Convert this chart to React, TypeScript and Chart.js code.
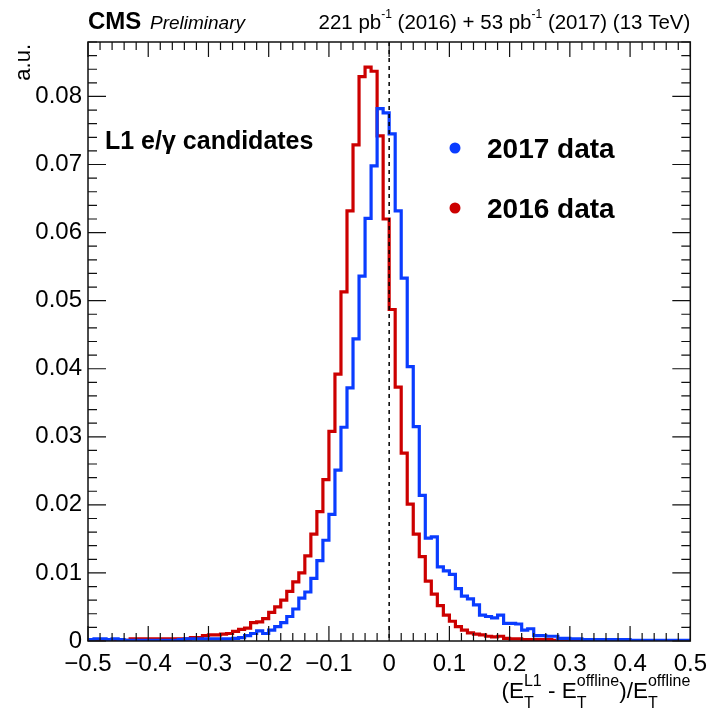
import React, { useEffect, useRef } from "react";
import { Chart, registerables } from "chart.js";

Chart.register(...registerables);

// ---- data -------------------------------------------------------------
const X_MIN = -0.5;
const X_MAX = 0.5;
const BIN_WIDTH = 0.01;
const Y_MIN = 0;
const Y_MAX = 0.088;

// 100 bins from -0.5 to 0.5 (width 0.01)
const data2017 = [
  0.0002, 0.0003, 0.0003, 0.0002, 0.0003, 0.0002, 0.0001, 0.0001, 0.0001, 0.0001,
  0.0001, 0.0001, 0.0001, 0.0001, 0.0001, 0.0002, 0.0003, 0.0003, 0.0003, 0.0003,
  0.0003, 0.0003, 0.0003, 0.0003, 0.0004, 0.0005, 0.0008, 0.0011, 0.0015, 0.0011,
  0.0016, 0.0021, 0.0027, 0.0036, 0.0047, 0.0063, 0.0072, 0.0092, 0.0118, 0.0148,
  0.0186, 0.0251, 0.0314, 0.0372, 0.0444, 0.0536, 0.0621, 0.0698, 0.0782, 0.0776,
  0.0745, 0.0632, 0.0533, 0.0403, 0.0315, 0.0214, 0.0151, 0.0153, 0.0109, 0.0103,
  0.0098, 0.0077, 0.0066, 0.0062, 0.0053, 0.0038, 0.0036, 0.0034, 0.0038, 0.0026,
  0.0026, 0.0025, 0.0016, 0.0018, 0.0008, 0.0008, 0.0007, 0.0007, 0.0004, 0.0004,
  0.0003, 0.0003, 0.0002, 0.0002, 0.0002, 0.0002, 0.0002, 0.0002, 0.0002, 0.0002,
  0.0001, 0.0001, 0.0001, 0.0001, 0.0001, 0.0001, 0.0001, 0.0001, 0.0001, 0.0001,
];

const data2016 = [
  0.0002, 0.0001, 0.0001, 0.0001, 0.0001, 0.0001, 0.0001, 0.0003, 0.0003, 0.0003,
  0.0003, 0.0003, 0.0003, 0.0003, 0.0003, 0.0003, 0.0003, 0.0005, 0.0005, 0.0008,
  0.0009, 0.0009, 0.0010, 0.0011, 0.0014, 0.0017, 0.0019, 0.0027, 0.0028, 0.0033,
  0.0042, 0.0050, 0.0060, 0.0073, 0.0087, 0.0100, 0.0125, 0.0157, 0.0190, 0.0237,
  0.0308, 0.0392, 0.0513, 0.0632, 0.0729, 0.0829, 0.0843, 0.0837, 0.0742, 0.0620,
  0.0487, 0.0373, 0.0276, 0.0201, 0.0157, 0.0124, 0.0088, 0.0069, 0.0052, 0.0038,
  0.0029, 0.0021, 0.0016, 0.0012, 0.0010, 0.0009, 0.0007, 0.0006, 0.0007, 0.0004,
  0.0003, 0.0003, 0.0002, 0.0002, 0.0002, 0.0002, 0.0002, 0.0001, 0.0001, 0.0001,
  0.0001, 0.0001, 0.0001, 0.0001, 0.0001, 0.0001, 0.0001, 0.0001, 0.0001, 0.0001,
  0.0000, 0.0000, 0.0000, 0.0000, 0.0000, 0.0000, 0.0000, 0.0000, 0.0000, 0.0000,
];

const seriesLabels = ["2017 data", "2016 data"];
const seriesColors = ["#0a3cff", "#cc0000"];

const xTickValues = [-0.5, -0.4, -0.3, -0.2, -0.1, 0, 0.1, 0.2, 0.3, 0.4, 0.5];
const xTickLabels = ["\u22120.5", "\u22120.4", "\u22120.3", "\u22120.2", "\u22120.1", "0", "0.1", "0.2", "0.3", "0.4", "0.5"];
const yTickValues = [0, 0.01, 0.02, 0.03, 0.04, 0.05, 0.06, 0.07, 0.08];
const yTickLabels = ["0", "0.01", "0.02", "0.03", "0.04", "0.05", "0.06", "0.07", "0.08"];

const X_MINOR_STEP = 0.02;
const Y_MINOR_STEP = 0.002;

const FONT = "'Liberation Sans', Arial, Helvetica, sans-serif";

// ---- helpers ----------------------------------------------------------
type Seg = { t: string; size: number; weight?: string; style?: string; dy?: number; sub?: string; sup?: string; subSize?: number };

function segFont(size: number, weight = "normal", style = "normal") {
  return `${style} ${weight} ${size}px ${FONT}`;
}

function segWidth(ctx: CanvasRenderingContext2D, s: Seg) {
  ctx.font = segFont(s.size, s.weight, s.style);
  let w = ctx.measureText(s.t).width;
  if (s.sub !== undefined || s.sup !== undefined) {
    ctx.font = segFont(s.subSize || s.size * 0.7, s.weight, s.style);
    const a = s.sub ? ctx.measureText(s.sub).width : 0;
    const b = s.sup ? ctx.measureText(s.sup).width : 0;
    w += Math.max(a, b);
  }
  return w;
}

function drawRich(ctx: CanvasRenderingContext2D, segs: Seg[], x: number, y: number, align: "left" | "right") {
  const total = segs.reduce((acc, s) => acc + segWidth(ctx, s), 0);
  let cx = align === "left" ? x : x - total;
  ctx.textAlign = "left";
  ctx.textBaseline = "alphabetic";
  for (const s of segs) {
    ctx.font = segFont(s.size, s.weight, s.style);
    ctx.fillText(s.t, cx, y + (s.dy || 0));
    const mw = ctx.measureText(s.t).width;
    cx += mw;
    if (s.sub !== undefined || s.sup !== undefined) {
      const ss = s.subSize || s.size * 0.7;
      ctx.font = segFont(ss, s.weight, s.style);
      let a = 0, b = 0;
      if (s.sub) { ctx.fillText(s.sub, cx, y + s.size * 0.45); a = ctx.measureText(s.sub).width; }
      if (s.sup) { ctx.fillText(s.sup, cx, y - s.size * 0.55); b = ctx.measureText(s.sup).width; }
      cx += Math.max(a, b);
    }
  }
}

const rootStylePlugin = {
  id: "rootStyle",
  afterDatasetsDraw(chart: any) {
    const { ctx, chartArea } = chart;
    const xs = chart.scales.x;
    const ys = chart.scales.y;
    const { left, right, top, bottom } = chartArea;
    ctx.save();
    // dashed line at x = 0
    const x0 = xs.getPixelForValue(0);
    ctx.strokeStyle = "#000";
    ctx.lineWidth = 1.5;
    ctx.setLineDash([4, 4]);
    ctx.beginPath();
    ctx.moveTo(x0, top);
    ctx.lineTo(x0, bottom);
    ctx.stroke();
    ctx.setLineDash([]);

    // frame
    ctx.strokeStyle = "#111";
    ctx.lineWidth = 1.5;
    ctx.strokeRect(left, top, right - left, bottom - top);

    // ticks
    ctx.lineWidth = 1.2;
    ctx.beginPath();
    const nx = Math.round((X_MAX - X_MIN) / X_MINOR_STEP);
    for (let i = 0; i <= nx; i++) {
      const v = X_MIN + i * X_MINOR_STEP;
      const px = xs.getPixelForValue(v);
      const len = i % 5 === 0 ? 15 : 8;
      ctx.moveTo(px, bottom);
      ctx.lineTo(px, bottom - len);
      ctx.moveTo(px, top);
      ctx.lineTo(px, top + len);
    }
    const ny = Math.floor((Y_MAX - Y_MIN) / Y_MINOR_STEP + 1e-6);
    for (let i = 0; i <= ny; i++) {
      const v = Y_MIN + i * Y_MINOR_STEP;
      const py = ys.getPixelForValue(v);
      const len = i % 5 === 0 ? 18 : 9;
      ctx.moveTo(left, py);
      ctx.lineTo(left + len, py);
      ctx.moveTo(right, py);
      ctx.lineTo(right - len, py);
    }
    ctx.stroke();
    ctx.restore();
  },
  afterDraw(chart: any) {
    const { ctx, chartArea } = chart;
    const { left, right, top } = chartArea;
    ctx.save();
    ctx.fillStyle = "#000";

    // header
    drawRich(ctx, [{ t: "CMS", size: 24, weight: "bold" }], left, 29, "left");
    drawRich(ctx, [{ t: "Preliminary", size: 19, style: "italic" }], left + 62, 29, "left");
    drawRich(
      ctx,
      [
        { t: "221 pb", size: 20.5, sup: "-1", subSize: 12 },
        { t: " (2016) + 53 pb", size: 20.5, sup: "-1", subSize: 12 },
        { t: " (2017) (13 TeV)", size: 20.5 },
      ],
      right,
      29,
      "right"
    );

    // y title
    ctx.save();
    ctx.translate(30, top + 2);
    ctx.rotate(-Math.PI / 2);
    ctx.font = segFont(22);
    ctx.textAlign = "right";
    ctx.textBaseline = "alphabetic";
    ctx.fillText("a.u.", 0, 0);
    ctx.restore();

    // x title
    drawRich(
      ctx,
      [
        { t: "(E", size: 22.5, sub: "T", sup: "L1", subSize: 16 },
        { t: " - E", size: 22.5, sub: "T", sup: "offline", subSize: 16 },
        { t: ")/E", size: 22.5, sub: "T", sup: "offline", subSize: 16 },
      ],
      right,
      698,
      "right"
    );

    // annotation
    drawRich(ctx, [{ t: "L1 e/\u03b3 candidates", size: 25, weight: "bold" }], left + 17, 149, "left");

    // legend
    const ds = chart.data.datasets;
    const legendY = [148, 208];
    ds.forEach((d: any, i: number) => {
      ctx.fillStyle = d.borderColor;
      ctx.beginPath();
      ctx.arc(455, legendY[i], 5.5, 0, Math.PI * 2);
      ctx.fill();
      ctx.fillStyle = "#000";
      drawRich(ctx, [{ t: d.label, size: 28, weight: "bold" }], 487, legendY[i] + 10, "left");
    });
    ctx.restore();
  },
};

function toPoints(values: number[]) {
  const pts = values.map((v, i) => ({ x: X_MIN + i * BIN_WIDTH, y: v }));
  pts.push({ x: X_MAX, y: values[values.length - 1] });
  return pts;
}

export default function App() {
  const canvasRef = useRef<HTMLCanvasElement | null>(null);

  useEffect(() => {
    document.body.style.margin = "0";
    const canvas = canvasRef.current;
    if (!canvas) return;
    Chart.defaults.font.family = FONT;
    const chart = new Chart(canvas, {
      type: "line",
      data: {
        datasets: [
          {
            label: seriesLabels[0],
            data: toPoints(data2017),
            borderColor: seriesColors[0],
            backgroundColor: seriesColors[0],
            borderWidth: 3.2,
            pointRadius: 0,
            stepped: "before",
            fill: false,
          },
          {
            label: seriesLabels[1],
            data: toPoints(data2016),
            borderColor: seriesColors[1],
            backgroundColor: seriesColors[1],
            borderWidth: 3.2,
            pointRadius: 0,
            stepped: "before",
            fill: false,
          },
        ],
      },
      options: {
        animation: false,
        responsive: false,
        maintainAspectRatio: false,
        layout: { padding: { left: 0, right: 23, top: 42, bottom: 0 } },
        plugins: { legend: { display: false }, tooltip: { enabled: false } },
        scales: {
          x: {
            type: "linear",
            min: X_MIN,
            max: X_MAX,
            grid: { display: false, drawTicks: false },
            border: { display: false },
            afterBuildTicks: (scale: any) => {
              scale.ticks = xTickValues.map((v) => ({ value: v }));
            },
            afterFit: (scale: any) => {
              scale.height = 73;
            },
            ticks: {
              autoSkip: false,
              maxRotation: 0,
              minRotation: 0,
              padding: 9,
              color: "#000",
              font: { size: 24, family: FONT },
              callback: (_v: any, i: number) => xTickLabels[i],
            },
          },
          y: {
            type: "linear",
            min: Y_MIN,
            max: Y_MAX,
            grid: { display: false, drawTicks: false },
            border: { display: false },
            afterBuildTicks: (scale: any) => {
              scale.ticks = yTickValues.map((v) => ({ value: v }));
            },
            afterFit: (scale: any) => {
              scale.width = 88;
            },
            ticks: {
              autoSkip: false,
              padding: 6,
              color: "#000",
              font: { size: 24, family: FONT },
              callback: (_v: any, i: number) => yTickLabels[i],
            },
          },
        },
      },
      plugins: [rootStylePlugin],
    } as any);
    return () => chart.destroy();
  }, []);

  return (
    <div style={{ width: 716, height: 714, background: "#fff" }}>
      <canvas ref={canvasRef} width={716} height={714} style={{ display: "block" }} />
    </div>
  );
}
